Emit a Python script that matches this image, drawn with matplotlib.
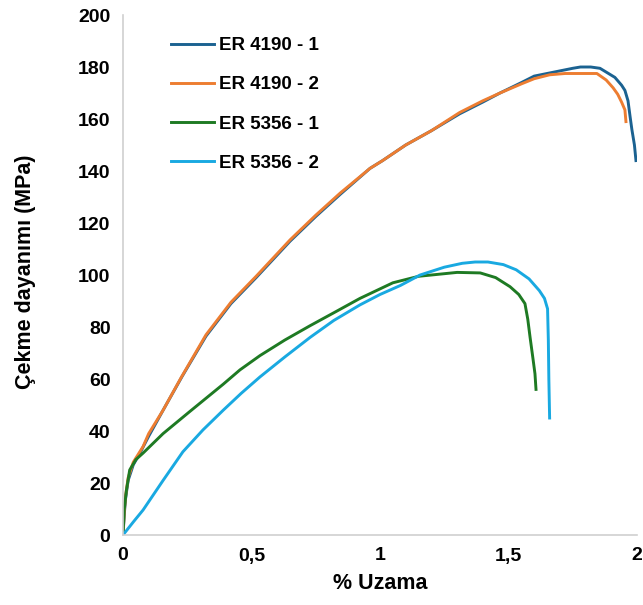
import matplotlib.pyplot as plt

plt.rcParams['font.family'] = ['Liberation Sans', 'DejaVu Sans']
plt.rcParams['font.weight'] = 'bold'

# values
x_4190_1 = [0, 0.005, 0.01, 0.02, 0.04, 0.066, 0.1, 0.156, 0.23, 0.323, 0.42, 0.518, 0.65, 0.75,
            0.845, 0.961, 1.01, 1.1, 1.2, 1.31, 1.4, 1.467, 1.55, 1.6, 1.65, 1.7, 1.75, 1.78,
            1.82, 1.856, 1.914, 1.94, 1.953, 1.965, 1.973, 1.98, 1.99, 1.996]
y_4190_1 = [0, 8, 14, 21, 27, 31.5, 38, 48, 61, 76.5, 89, 99, 113, 122.5,
            131, 141, 144, 150, 155.5, 162, 166.5, 170, 174, 176.5, 177.5, 178.5, 179.5, 180,
            180, 179.5, 176, 173, 171, 167, 161, 156, 150, 144]

x_4190_2 = [0, 0.005, 0.01, 0.02, 0.04, 0.078, 0.1, 0.156, 0.226, 0.323, 0.42, 0.518, 0.65, 0.75,
            0.845, 0.961, 1.01, 1.1, 1.2, 1.31, 1.4, 1.467, 1.55, 1.6, 1.66, 1.72, 1.78,
            1.844, 1.88, 1.907, 1.925, 1.94, 1.953, 1.957]
y_4190_2 = [0, 9, 15, 22, 28, 34, 39, 48, 60.5, 77, 89.5, 99.5, 113.5, 123,
            131.5, 141, 144, 150, 155.5, 162.5, 167, 170, 173.5, 175.5, 177, 177.5, 177.5,
            177.5, 175, 172, 169.5, 166.5, 163.5, 159]

x_5356_1 = [0, 0.005, 0.013, 0.026, 0.05, 0.078, 0.156, 0.26, 0.39, 0.455, 0.533, 0.63, 0.728,
            0.83, 0.922, 1.05, 1.15, 1.25, 1.3, 1.39, 1.45, 1.506, 1.54, 1.564, 1.575, 1.584,
            1.595, 1.603, 1.607]
y_5356_1 = [0, 10, 17, 25, 29, 31.5, 39, 47.5, 58, 63.5, 69, 75, 80.5,
            86, 91, 97, 99.5, 100.5, 101, 100.8, 99, 95.5, 92.5, 89, 83, 76,
            68, 62, 56]

x_5356_2 = [0, 0.04, 0.078, 0.156, 0.233, 0.311, 0.39, 0.46, 0.533, 0.63, 0.728, 0.82, 0.922,
            1.0, 1.08, 1.156, 1.25, 1.32, 1.37, 1.42, 1.48, 1.53, 1.58, 1.62, 1.64, 1.652,
            1.655, 1.657, 1.66]
y_5356_2 = [0, 5, 9.6, 21, 32, 40.4, 48, 54.5, 60.8, 68.5, 76, 82.5, 88.5,
            92.5, 96, 100, 103, 104.5, 105, 105, 104, 102, 98.5, 94, 91, 87,
            75, 60, 45]

labels = ['ER 4190 - 1', 'ER 4190 - 2', 'ER 5356 - 1', 'ER 5356 - 2']
colors = ['#1B6291', '#ED7D31', '#1E7A23', '#19A9E1']

fig = plt.figure(figsize=(6.43, 6.05), dpi=100)
ax = fig.add_axes([123 / 643, 1 - 535 / 605, (637 - 123) / 643, (535 - 15) / 605])

series = [(x_4190_1, y_4190_1), (x_4190_2, y_4190_2), (x_5356_1, y_5356_1), (x_5356_2, y_5356_2)]
for (xs, ys), lab, c in zip(series, labels, colors):
    ax.plot(xs, ys, color=c, lw=2.1, label=lab, solid_joinstyle='round')

ax.set_xlim(0, 2)
ax.set_ylim(0, 200)
ax.set_xticks([0, 0.5, 1, 1.5, 2])
ax.set_xticklabels(['0', '0,5', '1', '1,5', '2'])
ax.set_yticks(range(0, 201, 20))
ax.tick_params(length=0, labelsize=14, pad=9)
for lbl in ax.get_xticklabels() + ax.get_yticklabels():
    lbl.set_fontweight('bold')

for s in ['top', 'right']:
    ax.spines[s].set_visible(False)
for s in ['left', 'bottom']:
    ax.spines[s].set_color('#D0D0D0')
    ax.spines[s].set_linewidth(1.2)

ax.set_xlabel('% Uzama', fontsize=15.5, fontweight='bold', labelpad=6)
fig.text(26 / 643, 1 - 272 / 605, 'Çekme dayanımı (MPa)', rotation=90,
         ha='center', va='center', fontsize=15.5, fontweight='bold')

leg = ax.legend(loc='upper left', bbox_to_anchor=(0.06, 0.99), frameon=False,
                prop={'weight': 'bold', 'size': 13.5}, handlelength=2.3,
                labelspacing=1.18, handletextpad=0.3)

fig.savefig('out.png', dpi=100)
